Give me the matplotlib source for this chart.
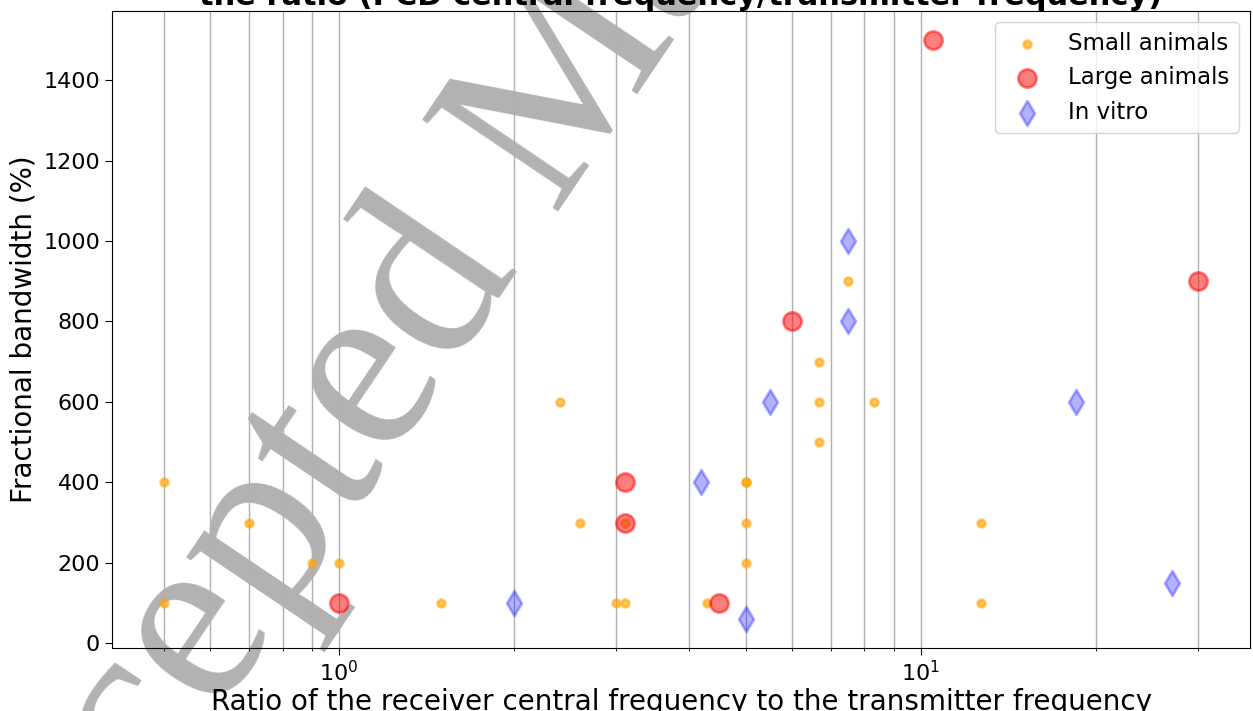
import matplotlib
matplotlib.use("Agg")
import matplotlib.pyplot as plt

# Small animals
small_x = [0.5, 0.5, 0.7, 0.9, 1.0, 1.5, 2.4, 2.6, 3.0, 3.1, 3.1, 4.3, 5.0, 5.0, 5.0, 5.0, 6.7, 6.7, 6.7, 7.5, 8.3, 12.7, 12.7]
small_y = [400, 100, 300, 200, 200, 100, 600, 300, 100, 100, 300, 100, 400, 400, 300, 200, 700, 600, 500, 900, 600, 300, 100]
# Large animals
large_x = [1.0, 3.1, 3.1, 4.5, 6.0, 10.5, 30.0]
large_y = [100, 400, 300, 100, 800, 1500, 900]
# In vitro
vitro_x = [2.0, 4.2, 5.0, 5.5, 7.5, 7.5, 18.5, 27.0]
vitro_y = [100, 400, 60, 600, 1000, 800, 600, 150]

title = "Fractional bandwidth of the PCD vs\nthe ratio (PCD central frequency/transmitter frequency)"
xlabel = "Ratio of the receiver central frequency to the transmitter frequency"
ylabel = "Fractional bandwidth (%)"
watermark = "Accepted Manuscript"

fig = plt.figure(figsize=(12.53, 7.11), dpi=100)
ax = fig.add_axes([0.0894, 0.0886, 0.9082, 0.8959])
ax.set_facecolor("none")

fig.text(0.472, 0.772, watermark, fontsize=180, family="Liberation Serif",
         color="#b2b2b2", rotation=56, rotation_mode="anchor",
         ha="center", va="baseline", zorder=-5)

ax.scatter(small_x, small_y, s=30, color="orange", alpha=0.6, linewidths=2,
           label="Small animals", zorder=3)
ax.scatter(large_x, large_y, s=170, color="red", alpha=0.5, linewidths=2,
           label="Large animals", zorder=3)
ax.scatter(vitro_x, vitro_y, s=160, color="blue", marker="d", alpha=0.3,
           linewidths=2, label="In vitro", zorder=3)

ax.set_xscale("log")
ax.grid(True, which="both", axis="x", color="#b0b0b0", linewidth=1.0)
ax.set_axisbelow(True)
ax.set_yticks([0, 200, 400, 600, 800, 1000, 1200, 1400])
ax.tick_params(axis="both", which="major", labelsize=16, length=5)
ax.set_xlabel(xlabel, fontsize=20, labelpad=2)
ax.set_ylabel(ylabel, fontsize=20)
ax.set_title(title, fontsize=22, fontweight="bold", pad=2)
ax.legend(loc="upper right", fontsize=16.5, labelspacing=0.5)

fig.savefig("out.png", dpi=100)
